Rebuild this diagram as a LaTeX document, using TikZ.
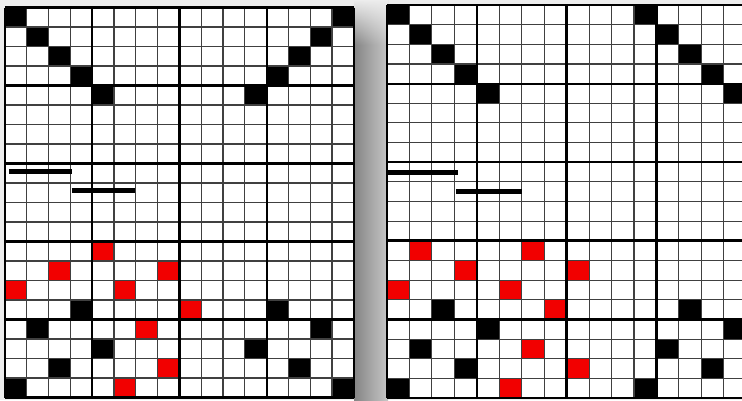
\documentclass[tikz,border=0pt]{standalone}
\usetikzlibrary{fadings}
\tikzfading[name=fadetop, top color=transparent!0, bottom color=transparent!100]
\tikzset{
  thinline/.style={draw=black!75, line width=1.1pt},
  thickline/.style={draw=black, line width=2.2pt},
  heavyline/.style={draw=black, line width=3pt},
  blackcell/.style={fill=black},
  redcell/.style={fill=red!95!black},
  bar/.style={draw=black, line width=5pt},
}
\begin{document}
\begin{tikzpicture}[x=1pt,y=-1pt]
\useasboundingbox (0,0) rectangle (742,400);
\fill[black!7] (0,0) rectangle (742,400);
% shadow between the two grids
\shade[left color=black!48, right color=black!22] (354,0) rectangle (388,400);
\fill[black!7, path fading=fadetop] (354,0) rectangle (388,45);

% ---------- left grid ----------
\begin{scope}[shift={(5,7.5)}, x=21.8pt, y=-19.5pt]
  \fill[white] (0,0) rectangle (16,20);
  \foreach \c/\r in {0/0,1/1,2/2,3/3,4/4,15/0,14/1,13/2,12/3,11/4,
                     3/15,1/16,4/17,2/18,0/19,12/15,14/16,11/17,13/18,15/19}
    \fill[blackcell] (\c,\r) rectangle ++(1,1);
  \foreach \c/\r in {4/12,2/13,7/13,0/14,5/14,8/15,6/16,7/18,5/19}
    \fill[redcell] (\c,\r) rectangle ++(1,1);
  \foreach \i in {0,...,16} \draw[thinline] (\i,0) -- (\i,20);
  \foreach \j in {0,...,20} \draw[thinline] (0,\j) -- (16,\j);
  \foreach \i in {0,4,12,16} \draw[thickline] (\i,0) -- (\i,20);
  \draw[heavyline] (8,0) -- (8,20);
  \foreach \j in {0,4,8,16,20} \draw[thickline] (0,\j) -- (16,\j);
  \draw[heavyline] (0,12) -- (16,12);
  \draw[bar] (0.18,8.41) -- (3.07,8.41);
  \draw[bar] (3.07,9.38) -- (5.96,9.38);
\end{scope}

% ---------- right grid ----------
\begin{scope}
\clip (380,0) rectangle (742,400);
\begin{scope}[shift={(387,5)}, x=22.45pt, y=-19.65pt]
  \fill[white] (0,0) rectangle (16,20);
  \foreach \c/\r in {0/0,1/1,2/2,3/3,4/4,11/0,12/1,13/2,14/3,15/4,
                     2/15,4/16,1/17,3/18,0/19,13/15,15/16,12/17,14/18,11/19}
    \fill[blackcell] (\c,\r) rectangle ++(1,1);
  \foreach \c/\r in {1/12,6/12,3/13,8/13,0/14,5/14,7/15,6/17,8/18,5/19}
    \fill[redcell] (\c,\r) rectangle ++(1,1);
  \foreach \i in {0,...,16} \draw[thinline] (\i,0) -- (\i,20);
  \foreach \j in {0,...,20} \draw[thinline] (0,\j) -- (16,\j);
  \foreach \i in {0,4,12,16} \draw[thickline] (\i,0) -- (\i,20);
  \draw[heavyline] (8,0) -- (8,20);
  \foreach \j in {0,4,8,16,20} \draw[thickline] (0,\j) -- (16,\j);
  \draw[heavyline] (0,12) -- (16,12);
  \draw[bar] (0,8.5) -- (3.16,8.5);
  \draw[bar] (3.07,9.47) -- (6.01,9.47);
\end{scope}
\end{scope}
\end{tikzpicture}
\end{document}
